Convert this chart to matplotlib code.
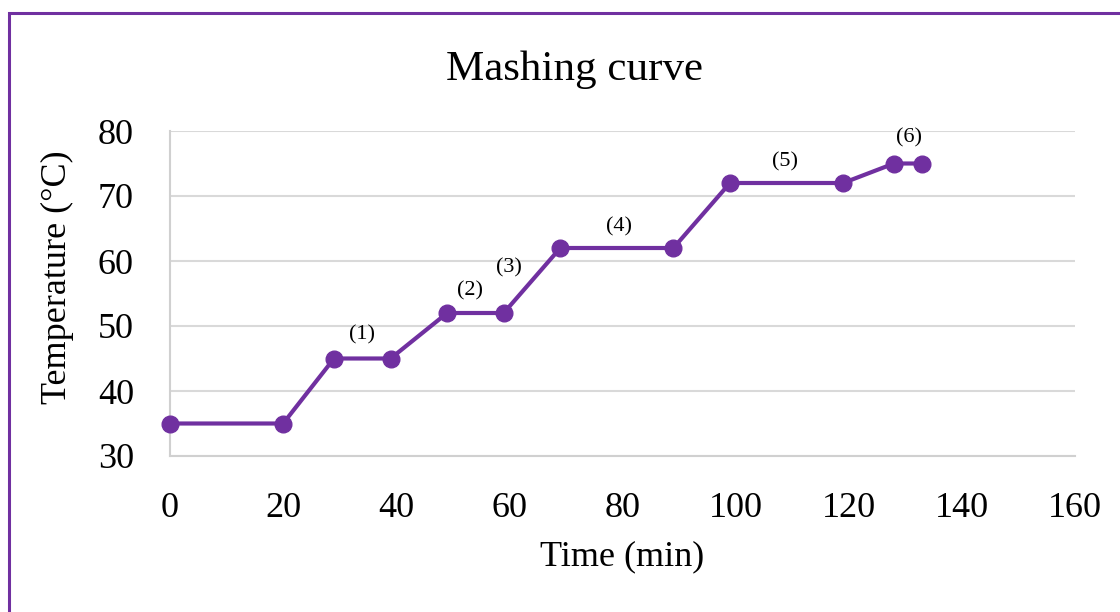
import matplotlib
matplotlib.use("Agg")
import matplotlib.pyplot as plt
from matplotlib.patches import Rectangle

time_min = [0, 20, 29, 39, 49, 59, 69, 89, 99, 119, 128, 133]
temp_c = [35, 35, 45, 45, 52, 52, 62, 62, 72, 72, 75, 75]
label_text = ["(1)", "(2)", "(3)", "(4)", "(5)", "(6)"]
label_x = [34, 53, 60, 79.3, 108.7, 130.7]
label_y = [48.6, 55.4, 58.9, 65.3, 75.3, 78.9]
x_ticks = [0, 20, 40, 60, 80, 100, 120, 140, 160]
y_ticks = [30, 40, 50, 60, 70, 80]

purple = "#7030A0"
plt.rcParams['font.family'] = ['Liberation Serif', 'DejaVu Serif']

fig = plt.figure(figsize=(11.2, 6.12), dpi=100)
W, H = 1120, 612
ax = fig.add_axes([170 / W, 1 - 456 / H, (1075 - 170) / W, (456 - 131) / H])

ax.plot(time_min, temp_c, color=purple, lw=3, marker='o', ms=12, zorder=3, clip_on=False)
for t, x, y in zip(label_text, label_x, label_y):
    ax.text(x, y, t, ha='center', va='center', fontsize=16, color='#000000')

ax.set_xlim(0, 160)
ax.set_ylim(30, 80)
ax.set_xticks(x_ticks)
ax.set_yticks(y_ticks)
ax.tick_params(length=0, labelsize=26, pad=26)
ax.grid(axis='y', color='#d9d9d9', lw=1.5)
ax.set_axisbelow(True)
for s in ['top', 'right']:
    ax.spines[s].set_visible(False)
for s in ['left', 'bottom']:
    ax.spines[s].set_color('#d0d0d0')
    ax.spines[s].set_linewidth(1.5)

fig.text(575 / W, 1 - 70 / H, "Mashing curve", ha='center', va='center', fontsize=31)
fig.text(622 / W, 1 - 557 / H, "Time (min)", ha='center', va='center', fontsize=26)
fig.text(57 / W, 1 - 277 / H, "Temperature (°C)", ha='center', va='center', rotation=90, fontsize=26)

fig.patches.append(Rectangle((9 / W, -0.1), 1.2, 1 - 13 / H + 0.1, transform=fig.transFigure,
                             fill=False, edgecolor=purple, lw=2.2))

fig.savefig("out.png", dpi=100)
